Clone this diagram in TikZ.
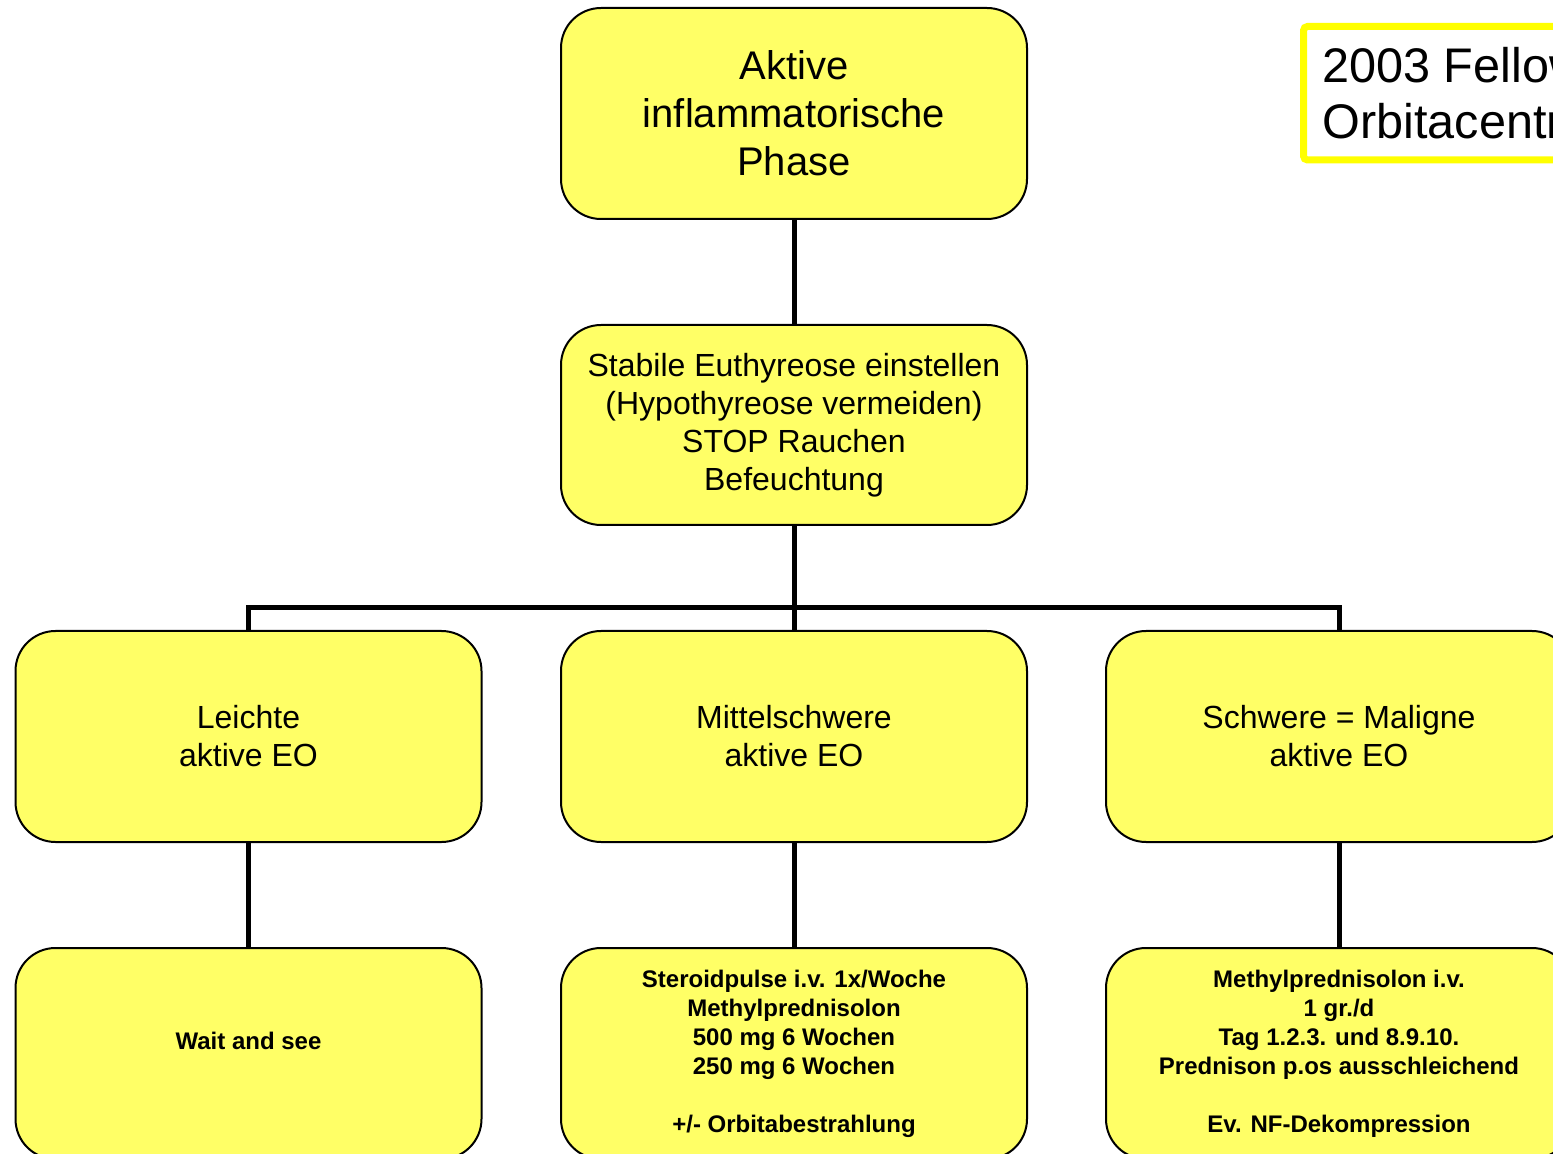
\documentclass[tikz,border=0pt]{standalone}
\usepackage{fontspec}
\setmainfont{Liberation Sans}
\definecolor{boxyellow}{RGB}{255,255,102}
\definecolor{frameyellow}{RGB}{255,255,0}

\begin{document}
\begin{tikzpicture}[x=0.5pt, y=-0.5pt,
  box/.style={draw, line width=1pt, fill=boxyellow, rounded corners=20pt,
    minimum width=233pt, minimum height=105.5pt, inner sep=0pt, align=center},
  big/.style={font=\fontsize{20}{24}\selectfont},
  mid/.style={font=\fontsize{16}{19}\selectfont},
  small/.style={font=\fontsize{12}{14.5}\selectfont\bfseries},
  conn/.style={line width=2.5pt}]
  \useasboundingbox (0,0) rectangle (1553,1154);
  \clip (0,0) rectangle (1553,1154);

  % Title frame (cut off at the right edge)
  \draw[frameyellow, line width=3.5pt, rounded corners=2pt] (1303.5,26.5) rectangle (1620,160);
  \node[anchor=north west, inner sep=0pt, align=left,
    font=\fontsize{24.3}{28}\selectfont] (title) at (1322,47) {2003 Fellow\\Orbitacentr};

  % Top of the tree
  \node[box, big] (aktiv) at (794,113.5) {Aktive\\inflammatorische\\Phase};
  \node[box, mid, minimum height=100pt] (euthy) at (794,425) {Stabile Euthyreose einstellen\\(Hypothyreose vermeiden)\\STOP Rauchen\\Befeuchtung};

  % Severity
  \node[box, mid] (leicht) at (248.5,736.5) {Leichte\\aktive EO};
  \node[box, mid] (mittel) at (794,736.5) {Mittelschwere\\aktive EO};
  \node[box, mid] (schwer) at (1339,736.5) {Schwere = Maligne\\aktive EO};

  % Therapy
  \node[box, small] (wait) at (248.5,1053.5) {\raisebox{13pt}{Wait and see}};
  \node[box, small] (pulse) at (794,1053.5) {Steroidpulse i.v. 1x/Woche\\Methylprednisolon\\500 mg 6 Wochen\\250 mg 6 Wochen\\\mbox{}\\+/- Orbitabestrahlung};
  \node[box, small] (methyl) at (1339,1053.5) {Methylprednisolon i.v.\\1 gr./d\\Tag 1.2.3. und 8.9.10.\\Prednison p.os ausschleichend\\\mbox{}\\Ev. NF-Dekompression};

  % Connectors
  \coordinate (bar) at (794,608);
  \draw[conn] (aktiv) -- (euthy);
  \draw[conn] (euthy) -- (bar) -- (mittel);
  \draw[conn] (leicht.north) |- (bar) -| (schwer.north);
  \draw[conn] (leicht) -- (wait);
  \draw[conn] (mittel) -- (pulse);
  \draw[conn] (schwer) -- (methyl);
\end{tikzpicture}
\end{document}
